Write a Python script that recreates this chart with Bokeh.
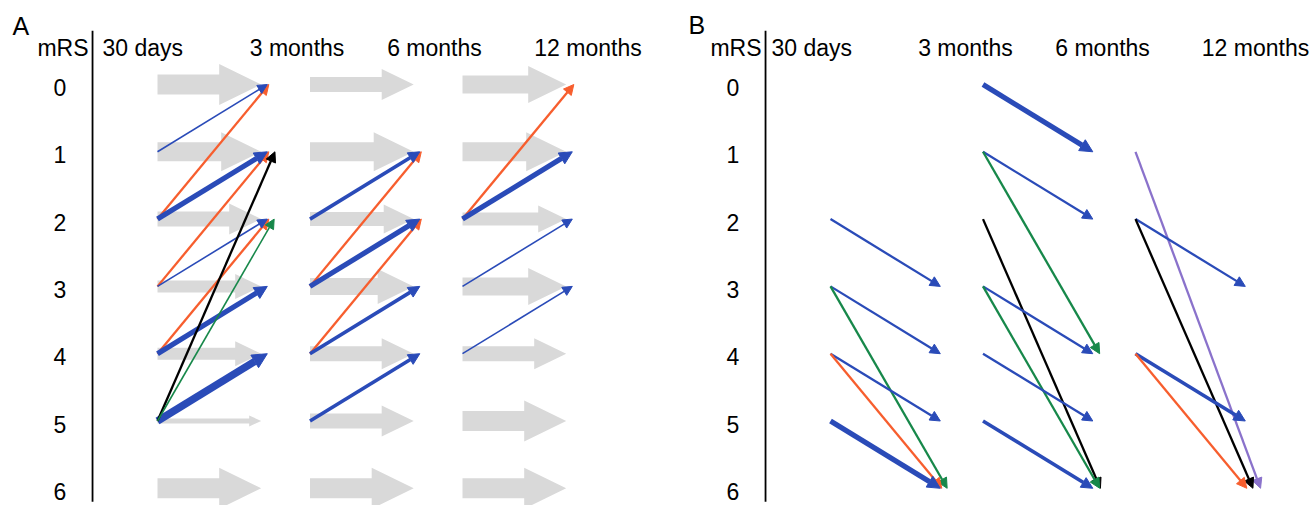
from bokeh.plotting import figure
from bokeh.models import Range1d, Arrow, NormalHead
from bokeh.layouts import row
from bokeh.embed import file_html
from bokeh.resources import INLINE
from bokeh.core.properties import value

# ---------------- data ----------------
mrs_levels = [0, 1, 2, 3, 4, 5, 6]
time_labels = ["30 days", "3 months", "6 months", "12 months"]

# Panel A, grey "unchanged" arrows: thickness per interval (rows) and mRS level (cols)
stay_A = [
    [20, 19, 15, 12, 12, 5, 20],
    [15, 19, 14, 17, 15, 15, 20],
    [18, 19, 13, 18, 15, 20, 20],
]

# Panel A: improvement transitions (interval index, from mRS, to mRS, colour class, weight class)
A_t      = [0, 0, 0, 0, 0, 0, 0, 0, 0, 0,   1, 1, 1, 1, 1, 1,   2, 2, 2, 2]
A_from   = [2, 3, 4, 1, 2, 3, 4, 5, 5, 5,   3, 4, 2, 3, 4, 5,   2, 2, 3, 4]
A_to     = [0, 1, 2, 0, 1, 2, 3, 4, 1, 2,   1, 2, 1, 2, 3, 4,   0, 1, 2, 3]
A_color  = ["orange", "orange", "orange", "blue", "blue", "blue", "blue", "blue", "black", "green",
            "orange", "orange", "blue", "blue", "blue", "blue",
            "orange", "blue", "blue", "blue"]
A_weight = [2, 2, 2, 1, 4, 1, 4, 5, 2, 1,   2, 2, 3, 4, 3, 3,   2, 4, 1, 1]

# Panel B: worsening transitions
B_t      = [0, 0, 0, 0, 0, 0,   1, 1, 1, 1, 1, 1, 1, 1,   2, 2, 2, 2, 2]
B_from   = [2, 3, 3, 4, 4, 5,   0, 1, 1, 2, 3, 3, 4, 5,   1, 2, 2, 4, 4]
B_to     = [3, 4, 6, 5, 6, 6,   1, 2, 4, 6, 4, 6, 5, 6,   6, 3, 6, 5, 6]
B_color  = ["blue", "blue", "green", "blue", "orange", "blue",
            "blue", "blue", "green", "black", "blue", "green", "blue", "blue",
            "purple", "blue", "black", "blue", "orange"]
B_weight = [2, 2, 2, 2, 2, 4,   4, 2, 2, 2, 2, 2, 2, 3,   2, 2, 2, 3, 2]

# ---------------- styles ----------------
COLORS = {"blue": "#2A4BB8", "orange": "#F75E2E", "green": "#17884A",
          "black": "#000000", "purple": "#8A72CB"}
TIP_DX = {"blue": 0.0, "orange": 0.01, "green": 0.045, "black": 0.05, "purple": 0.1}
WIDTHS = {1: 1.6, 2: 2.3, 3: 3.6, 4: 5.2, 5: 7.5}
GREY = "#D9D9D9"
FONT = value("Liberation Sans")

PX_X = 152.5   # pixels per interval
PX_Y = 67.3    # pixels per mRS step
H = 505
Y_TOP = -1.248
HEADER_Y = -0.535
LEVEL_DY = 0.045


def make_fig(width, x_start):
    p = figure(width=width, height=H, output_backend="svg", toolbar_location=None,
               x_range=Range1d(x_start, x_start + width / PX_X),
               y_range=Range1d(Y_TOP + H / PX_Y, Y_TOP),
               min_border=0, min_border_left=0, min_border_right=0,
               min_border_top=0, min_border_bottom=0)
    p.axis.visible = False
    p.grid.visible = False
    p.outline_line_color = None
    p.background_fill_color = "white"
    p.border_fill_color = "white"
    return p


def add_frame(p, letter, letter_x, letter_y, header_x):
    # panel letter
    p.text(x=[letter_x], y=[letter_y], text=[letter], text_font=FONT,
           text_font_size=value("25px"), text_align="left", text_baseline="alphabetic",
           text_color="black")
    # mRS header and levels
    p.text(x=[-0.452], y=[HEADER_Y], text=["mRS"], text_font=FONT,
           text_font_size=value("23px"), text_align="right", text_baseline="alphabetic",
           text_color="black")
    p.text(x=[-0.64] * len(mrs_levels), y=[m + LEVEL_DY for m in mrs_levels],
           text=[str(m) for m in mrs_levels],
           text_font=FONT, text_font_size=value("23px"), text_align="center",
           text_baseline="middle", text_color="black")
    # time headers
    p.text(x=[header_x[0]], y=[HEADER_Y], text=[time_labels[0]], text_font=FONT,
           text_font_size=value("23px"), text_align="left", text_baseline="alphabetic",
           text_color="black")
    p.text(x=header_x[1:], y=[HEADER_Y] * 3, text=time_labels[1:], text_font=FONT,
           text_font_size=value("23px"), text_align="center", text_baseline="alphabetic",
           text_color="black")
    # vertical divider
    p.segment(x0=[-0.426], y0=[-0.80], x1=[-0.426], y1=[6.2], line_color="black",
              line_width=1.8)


def add_grey(p, stay):
    xs, ys = [], []
    for t, row_vals in enumerate(stay):
        for lvl, h in zip(mrs_levels, row_vals):
            head_h = 2 * h + 1
            head_l = 2 * h + 2
            x0 = t
            xt = t + 0.68
            xb = xt - head_l / PX_X
            hs = (h / 2) / PX_Y
            hh = (head_h / 2) / PX_Y
            xs.append([x0, xb, xb, xt, xb, xb, x0])
            ys.append([lvl - hs, lvl - hs, lvl - hh, lvl, lvl + hh, lvl + hs, lvl + hs])
    p.patches(xs=xs, ys=ys, fill_color=GREY, line_color=None)


def add_arrows(p, ts, frs, tos, cols, wts):
    for t, fr, to, c, w in zip(ts, frs, tos, cols, wts):
        col = COLORS[c]
        lw = WIDTHS[w]
        head = NormalHead(size=8 + 0.9 * lw, fill_color=col, line_color=col, line_width=1)
        p.add_layout(Arrow(end=head, x_start=t, y_start=fr,
                           x_end=t + 0.72 + TIP_DX[c], y_end=to,
                           line_color=col, line_width=lw))


pA = make_fig(680, -1.0295)
add_grey(pA, stay_A)
add_arrows(pA, A_t, A_from, A_to, A_color, A_weight)
add_frame(pA, "A", -0.951, -0.862, [-0.361, 0.915, 1.816, 2.823])

pB = make_fig(635, -0.9836)
add_arrows(pB, B_t, B_from, B_to, B_color, B_weight)
add_frame(pB, "B", -0.931, -0.877, [-0.387, 0.885, 1.784, 2.787])

layout = row(pA, pB)
open("out.html", "w").write(file_html(layout, INLINE))
